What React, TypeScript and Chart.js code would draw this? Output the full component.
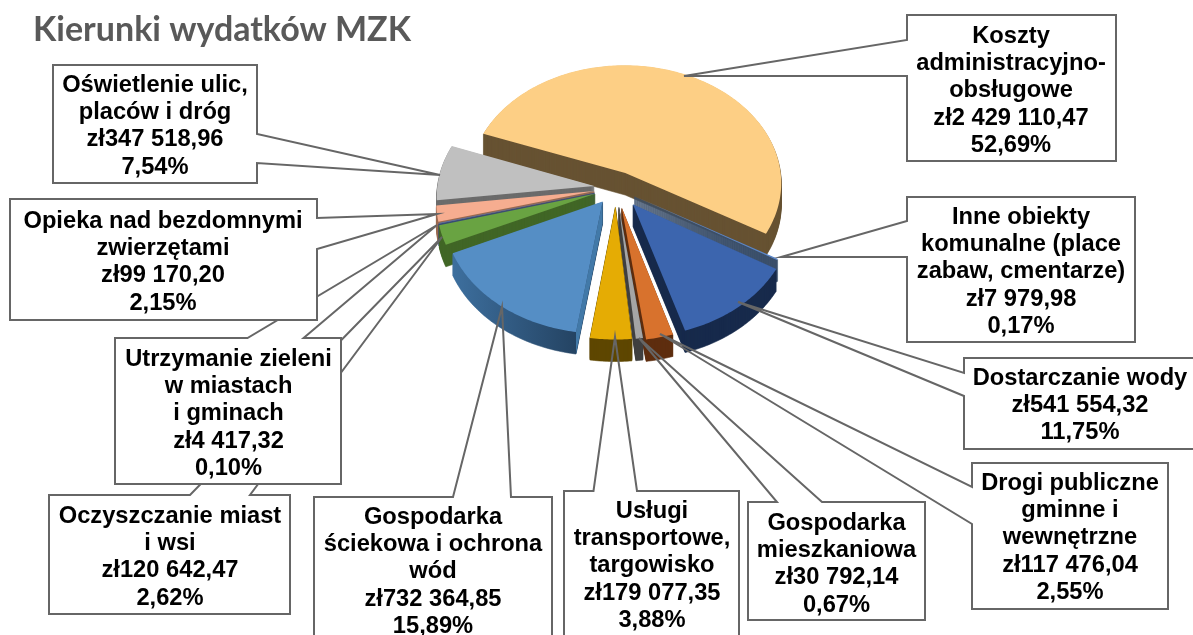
import React, { useEffect, useRef } from "react";
import { Chart, registerables } from "chart.js";

Chart.register(...registerables);

const TITLE = "Kierunki wydatków MZK";

const categories = [
  "Koszty administracyjno-obsługowe",
  "Inne obiekty komunalne (place zabaw, cmentarze)",
  "Dostarczanie wody",
  "Drogi publiczne gminne i wewnętrzne",
  "Gospodarka mieszkaniowa",
  "Usługi transportowe, targowisko",
  "Gospodarka ściekowa i ochrona wód",
  "Oczyszczanie miast i wsi",
  "Utrzymanie zieleni w miastach i gminach",
  "Opieka nad bezdomnymi zwierzętami",
  "Oświetlenie ulic, placów i dróg",
];
const amounts = [
  2429110.47, 7979.98, 541554.32, 117476.04, 30792.14, 179077.35, 732364.85, 120642.47, 4417.32, 99170.2, 347518.96,
];
const amountLabels = [
  "zł2 429 110,47", "zł7 979,98", "zł541 554,32", "zł117 476,04", "zł30 792,14", "zł179 077,35",
  "zł732 364,85", "zł120 642,47", "zł4 417,32", "zł99 170,20", "zł347 518,96",
];
const percentLabels = ["52,69%", "0,17%", "11,75%", "2,55%", "0,67%", "3,88%", "15,89%", "2,62%", "0,10%", "2,15%", "7,54%"];
const wrappedNames = [
  ["Koszty", "administracyjno-", "obsługowe"],
  ["Inne obiekty", "komunalne (place", "zabaw, cmentarze)"],
  ["Dostarczanie wody"],
  ["Drogi publiczne", "gminne i", "wewnętrzne"],
  ["Gospodarka", "mieszkaniowa"],
  ["Usługi", "transportowe,", "targowisko"],
  ["Gospodarka", "ściekowa i ochrona", "wód"],
  ["Oczyszczanie miast", "i wsi"],
  ["Utrzymanie zieleni", "w miastach", "i gminach"],
  ["Opieka nad bezdomnymi", "zwierzętami"],
  ["Oświetlenie ulic,", "placów i dróg"],
];

// styling
const topColors = ["#fdcf85", "#5b86c8", "#3c65ae", "#d8722d", "#a5a5a5", "#e5ac04", "#558ec5", "#69a342", "#5072ad", "#f6ad90", "#c0c0c0"];
const wallColors = ["#675232", "#3a4f6a", "#172a4c", "#5e2e0f", "#404040", "#5e4700", ["#3d6f9e", "#1f3a56"], "#416626", "#2f4a78", "#9a6a50", "#6b6b6b"];
const cutFaceColors = [null, null, null, null, null, null, "#4279a8", null, null, null, null];
const explode = [22, 21, 27, 26, 24, 24, 22, 22, 22, 22, 22];

// callout layout: box [x, y, w, h], leader side, leader base points, tip, text centre, first baseline
type Callout = {
  slice: number; box: number[]; side: "top" | "left" | "right"; base: number[]; tip: number[]; textX: number; baseline: number;
};
const callouts: Callout[] = [
  { slice: 7, box: [49, 495, 241, 119], side: "top", base: [190, 250], tip: [442, 237], textX: 170, baseline: 522.5 },
  { slice: 8, box: [115, 338, 226, 146], side: "top", base: [247.5, 303.6], tip: [437, 225], textX: 228.5, baseline: 365.5 },
  { slice: 9, box: [10, 199, 307, 121], side: "right", base: [218, 249], tip: [437, 214], textX: 163, baseline: 227.5 },
  { slice: 10, box: [53, 65, 204, 118], side: "right", base: [134, 163], tip: [440, 175], textX: 155, baseline: 91.5 },
  { slice: 6, box: [314, 497, 238, 150], side: "top", base: [453, 511], tip: [502, 307], textX: 433, baseline: 523.5 },
  { slice: 5, box: [564, 491, 175, 160], side: "top", base: [593.5, 637], tip: [615, 337], textX: 652, baseline: 517.5 },
  { slice: 4, box: [748, 502, 177, 118], side: "top", base: [777, 822], tip: [639, 338], textX: 836.5, baseline: 529.5 },
  { slice: 3, box: [972, 463, 196, 146], side: "left", base: [487, 524], tip: [660, 334], textX: 1070, baseline: 489.5 },
  { slice: 2, box: [964, 358, 240, 91], side: "left", base: [373, 396], tip: [738, 302], textX: 1080, baseline: 384.5 },
  { slice: 1, box: [907, 197, 228, 145], side: "left", base: [221, 257], tip: [781, 257], textX: 1021, baseline: 223.5 },
  { slice: 0, box: [907, 15, 209, 146], side: "left", base: [40, 76], tip: [684, 76], textX: 1011, baseline: 42.5 },
];

const VERTICAL_SQUASH = 0.758;
const PERSPECTIVE = 0.082;
const DEPTH = 22;
const LINE_HEIGHT = 27.45;

const pie3d = {
  id: "pie3d",
  beforeDatasetDraw(chart: any) {
    const ctx = chart.ctx;
    const arcs = chart.getDatasetMeta(0).data as any[];
    const R = arcs[0].outerRadius;
    const project = (u: number, v: number) => {
      const k = 1 / (1 - PERSPECTIVE * v);
      return [arcs[0].x + R * u * k, arcs[0].y + R * VERTICAL_SQUASH * v * k];
    };
    const wedges = arcs.map((arc, index) => {
      const mid = (arc.startAngle + arc.endAngle) / 2;
      const e = arc.options.offset / R;
      const ou = e * Math.cos(mid);
      const ov = e * Math.sin(mid);
      const pts: number[][] = [project(ou, ov)];
      const steps = Math.max(2, Math.ceil((arc.endAngle - arc.startAngle) / 0.015));
      for (let s = 0; s <= steps; s++) {
        const a = arc.startAngle + ((arc.endAngle - arc.startAngle) * s) / steps;
        pts.push(project(ou + Math.cos(a), ov + Math.sin(a)));
      }
      return { index, pts, order: Math.sin(mid) };
    });
    const trace = (pts: number[][], dy: number) => {
      ctx.beginPath();
      pts.forEach((p, i) => (i ? ctx.lineTo(p[0], p[1] + dy) : ctx.moveTo(p[0], p[1] + dy)));
      ctx.closePath();
    };
    [...wedges]
      .sort((a, b) => a.order - b.order)
      .forEach(({ index, pts }) => {
        const wall = wallColors[index];
        let wallFill: any = wall;
        if (Array.isArray(wall)) {
          const xs = pts.map((p) => p[0]);
          const g = ctx.createLinearGradient(Math.min(...xs), 0, Math.max(...xs), 0);
          g.addColorStop(0, wall[0]);
          g.addColorStop(1, wall[1]);
          wallFill = g;
        }
        ctx.fillStyle = wallFill;
        ctx.strokeStyle = wallFill;
        ctx.lineWidth = 0.6;
        for (let d = DEPTH; d >= 1; d--) {
          trace(pts, d);
          ctx.fill();
          ctx.stroke();
        }
        const cut = cutFaceColors[index];
        if (cut) {
          ctx.fillStyle = cut;
          ctx.beginPath();
          ctx.moveTo(pts[0][0], pts[0][1]);
          ctx.lineTo(pts[1][0], pts[1][1]);
          ctx.lineTo(pts[1][0], pts[1][1] + DEPTH);
          ctx.lineTo(pts[0][0], pts[0][1] + DEPTH);
          ctx.closePath();
          ctx.fill();
        }
        ctx.fillStyle = topColors[index];
        trace(pts, 0);
        ctx.fill();
      });
    return false;
  },
  afterDraw(chart: any) {
    const ctx = chart.ctx;
    ctx.save();
    ctx.textAlign = "left";
    ctx.textBaseline = "alphabetic";
    ctx.font = "bold 34px Lato";
    ctx.fillStyle = "#595959";
    ctx.fillText(TITLE, 33, 41);

    callouts.forEach((c) => {
      const [x, y, w, h] = c.box;
      ctx.fillStyle = "#ffffff";
      ctx.fillRect(x, y, w, h);
      ctx.beginPath();
      if (c.side === "top") {
        ctx.moveTo(x, y);
        ctx.lineTo(c.base[0], y);
        ctx.lineTo(c.tip[0], c.tip[1]);
        ctx.lineTo(c.base[1], y);
        ctx.lineTo(x + w, y);
        ctx.lineTo(x + w, y + h);
        ctx.lineTo(x, y + h);
      } else if (c.side === "right") {
        ctx.moveTo(x + w, y);
        ctx.lineTo(x + w, c.base[0]);
        ctx.lineTo(c.tip[0], c.tip[1]);
        ctx.lineTo(x + w, c.base[1]);
        ctx.lineTo(x + w, y + h);
        ctx.lineTo(x, y + h);
        ctx.lineTo(x, y);
      } else {
        ctx.moveTo(x, y);
        ctx.lineTo(x, c.base[0]);
        ctx.lineTo(c.tip[0], c.tip[1]);
        ctx.lineTo(x, c.base[1]);
        ctx.lineTo(x, y + h);
        ctx.lineTo(x + w, y + h);
        ctx.lineTo(x + w, y);
      }
      ctx.closePath();
      ctx.strokeStyle = "#666666";
      ctx.lineWidth = 2;
      ctx.lineJoin = "miter";
      ctx.stroke();

      const lines = [...wrappedNames[c.slice], amountLabels[c.slice], percentLabels[c.slice]];
      ctx.font = "bold 23.7px 'Liberation Sans'";
      ctx.fillStyle = "#000000";
      ctx.textAlign = "center";
      lines.forEach((line, i) => ctx.fillText(line, c.textX, c.baseline + i * LINE_HEIGHT));
      ctx.textAlign = "left";
    });
    ctx.restore();
  },
};

export default function App() {
  const ref = useRef<HTMLCanvasElement>(null);
  useEffect(() => {
    const chart = new Chart(ref.current as HTMLCanvasElement, {
      type: "pie",
      data: {
        labels: categories,
        datasets: [{ data: amounts, backgroundColor: topColors, offset: explode, borderWidth: 0 }],
      },
      options: {
        responsive: false,
        animation: false,
        rotation: -69.7,
        radius: 157,
        layout: { padding: { left: 39, right: 0, top: 0, bottom: 259 } },
        plugins: { legend: { display: false }, tooltip: { enabled: false } },
      } as any,
      plugins: [pie3d as any],
    });
    return () => chart.destroy();
  }, []);
  return (
    <div style={{ position: "absolute", left: 0, top: 0, width: 1193, height: 635, overflow: "hidden", background: "#fff" }}>
      <canvas ref={ref} width={1193} height={635} style={{ display: "block" }} />
    </div>
  );
}
